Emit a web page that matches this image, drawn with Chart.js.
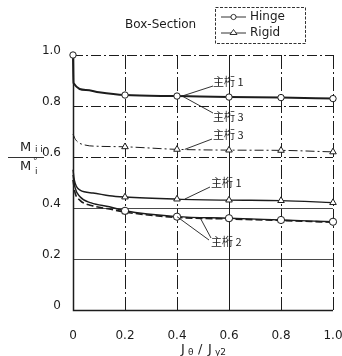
<!DOCTYPE html>
<html>
<head>
<meta charset="utf-8">
<script src="https://cdn.jsdelivr.net/npm/chart.js@4/dist/chart.umd.min.js"></script>
<style>
  html, body { margin: 0; padding: 0; background: #fff; }
  #wrap { width: 342px; height: 356px; position: relative; }
</style>
</head>
<body>
<div id="wrap"><canvas id="chart"></canvas></div>
<script>
// Jθ/Jy2 values and M_ii/M°_i
var hinge1X = [0, 0.002, 0.05, 0.1, 0.2, 0.4, 0.6, 0.8, 1.0]
var hinge1Y = [1.0, 0.89, 0.863, 0.854, 0.843, 0.839, 0.835, 0.833, 0.829]

var rigid3X = [0, 0.01, 0.046, 0.1, 0.2, 0.4, 0.6, 0.8, 1.0]
var rigid3Y = [0.69, 0.668, 0.647, 0.642, 0.64, 0.63, 0.627, 0.626, 0.62]

var rigid1X = [0, 0.005, 0.027, 0.077, 0.14, 0.2, 0.4, 0.6, 0.8, 1.0]
var rigid1Y = [0.55, 0.51, 0.47, 0.459, 0.448, 0.443, 0.435, 0.431, 0.429, 0.421]

var hinge2X = [0, 0.008, 0.027, 0.07, 0.14, 0.2, 0.4, 0.6, 0.8, 1.0]
var hinge2Y = [0.53, 0.48, 0.444, 0.42, 0.405, 0.389, 0.366, 0.36, 0.353, 0.346]

var rigid2X = [0, 0.008, 0.027, 0.07, 0.14, 0.2, 0.4, 0.6, 0.8, 1.0]
var rigid2Y = [0.51, 0.46, 0.43, 0.41, 0.396, 0.384, 0.363, 0.357, 0.351, 0.344]

var markX = [0.2, 0.4, 0.6, 0.8, 1.0]
var xTicks = [0, 0.2, 0.4, 0.6, 0.8, 1.0]
var yTickLabels = {"1": "1.0", "0.8": "0.8", "0.6": "0.6", "0.4": "0.4", "0.2": "0.2", "0": "0"}

var INK = '#1c1c1c'
var FONT = '"DejaVu Sans", sans-serif'
var JFONT = '"Noto Sans CJK JP", sans-serif'

function toPoints(xs, ys){
    var pts = []
    for (var i = 0; i < xs.length; i++){
        pts.push({x: xs[i], y: ys[i]})
    }
    return pts
}

function markerRadius(xs, r, first){
    return xs.map(function(x, i){
        if (first && i == 0) return r
        return markX.indexOf(x) >= 0 ? r : 0
    })
}

function series(xs, ys, opts){
    return Object.assign({
        data: toPoints(xs, ys),
        borderColor: INK,
        borderWidth: 1,
        pointBackgroundColor: '#fff',
        pointBorderColor: INK,
        pointBorderWidth: 1,
        pointHoverRadius: 0,
        cubicInterpolationMode: 'monotone',
        clip: false,
        fill: false
    }, opts)
}

var datasets = [
    series(hinge1X, hinge1Y, {label: 'Hinge 1', borderWidth: 2, pointStyle: 'circle', pointRadius: markerRadius(hinge1X, 3.2, true)}),
    series(rigid3X, rigid3Y, {label: 'Rigid 3', borderDash: [9, 3, 2, 3], pointStyle: 'triangle', pointRadius: markerRadius(rigid3X, 3.8)}),
    series(rigid1X, rigid1Y, {label: 'Rigid 1', borderWidth: 1.4, pointStyle: 'triangle', pointRadius: markerRadius(rigid1X, 3.8)}),
    series(hinge2X, hinge2Y, {label: 'Hinge 2', borderWidth: 1.4, pointStyle: 'circle', pointRadius: markerRadius(hinge2X, 3.6)}),
    series(rigid2X, rigid2Y, {label: 'Rigid 2', borderWidth: 1.6, borderDash: [7, 3], pointStyle: 'triangle', pointRadius: markerRadius(rigid2X, 3.4)})
]

// grid, frame, titles, legend and the girder labels
var decorations = {
    id: 'decorations',
    beforeDatasetsDraw: function(chart){
        var ctx = chart.ctx
        var a = chart.chartArea
        var xs = chart.scales.x
        var ys = chart.scales.y
        ctx.save()
        ctx.strokeStyle = INK
        ctx.lineWidth = 1
        // horizontal grid
        ;[0.2, 0.4, 0.6, 0.8, 1.0].forEach(function(v){
            var y = Math.round(ys.getPixelForValue(v)) + 0.5
            ctx.setLineDash(v >= 0.6 ? [10, 3, 2, 3] : [])
            ctx.lineWidth = v >= 0.6 ? 1 : 0.8
            ctx.beginPath(); ctx.moveTo(a.left, y); ctx.lineTo(a.right, y); ctx.stroke()
        })
        // vertical grid
        ;[0.2, 0.4, 0.6, 0.8, 1.0].forEach(function(v){
            var x = Math.round(xs.getPixelForValue(v)) + 0.5
            ctx.setLineDash(v == 0.6 ? [] : [14, 3, 2, 3])
            ctx.lineWidth = 1
            ctx.beginPath(); ctx.moveTo(x, a.top); ctx.lineTo(x, a.bottom); ctx.stroke()
        })
        // left and bottom frame
        ctx.setLineDash([])
        ctx.lineWidth = 1.5
        ctx.beginPath()
        ctx.moveTo(a.left + 0.5, a.top)
        ctx.lineTo(a.left + 0.5, a.bottom + 0.5)
        ctx.lineTo(a.right, a.bottom + 0.5)
        ctx.stroke()
        ctx.restore()
    },
    afterDatasetsDraw: function(chart){
        var ctx = chart.ctx
        var xs = chart.scales.x
        var ys = chart.scales.y
        function px(v){ return xs.getPixelForValue(v) }
        function py(v){ return ys.getPixelForValue(v) }
        ctx.save()
        ctx.fillStyle = INK
        ctx.strokeStyle = INK
        ctx.lineWidth = 0.9

        // title
        ctx.font = '12px ' + FONT
        ctx.textBaseline = 'middle'
        ctx.textAlign = 'left'
        ctx.fillText('Box-Section', 125, 25)

        // legend box
        ctx.setLineDash([3, 1.5])
        ctx.strokeRect(215.5, 7.5, 90, 36)
        ctx.setLineDash([])
        ctx.beginPath(); ctx.moveTo(221, 17); ctx.lineTo(246, 17); ctx.stroke()
        ctx.beginPath(); ctx.moveTo(221, 33); ctx.lineTo(246, 33); ctx.stroke()
        ctx.fillStyle = '#fff'
        ctx.beginPath(); ctx.arc(233.5, 17, 2.6, 0, Math.PI * 2); ctx.fill(); ctx.stroke()
        ctx.beginPath(); ctx.moveTo(233.5, 29.5); ctx.lineTo(237, 34.5); ctx.lineTo(230, 34.5); ctx.closePath(); ctx.fill(); ctx.stroke()
        ctx.fillStyle = INK
        ctx.fillText('Hinge', 250, 17)
        ctx.fillText('Rigid', 250, 33)

        // y-axis title as a fraction
        ctx.font = '13px ' + FONT
        ctx.textAlign = 'left'
        ctx.fillText('M', 20, 148)
        ctx.font = '9px ' + FONT
        ctx.fillText('i i', 35, 150)
        ctx.beginPath(); ctx.moveTo(8, 157.5); ctx.lineTo(44, 157.5); ctx.stroke()
        ctx.font = '13px ' + FONT
        ctx.fillText('M', 20, 167)
        ctx.font = '9px ' + FONT
        ctx.fillText('°', 33, 162)
        ctx.fillText('i', 35, 172)

        // x-axis title
        ctx.font = '13px ' + FONT
        ctx.fillText('J', 181, 350)
        ctx.font = '9px ' + FONT
        ctx.fillText('θ', 188, 353)
        ctx.font = '13px ' + FONT
        ctx.fillText('/', 198, 350)
        ctx.fillText('J', 208, 350)
        ctx.font = '9px ' + FONT
        ctx.fillText('y2', 215, 353)

        // girder labels with leader lines
        ctx.font = '11px ' + JFONT
        var labels = [
            {text: '主桁 1', tx: 213, ty: 82, ax: 0.42, ay: 0.839, ex: 213, ey: 86},
            {text: '主桁 3', tx: 213, ty: 117, ax: 0.42, ay: 0.839, ex: 213, ey: 113},
            {text: '主桁 3', tx: 213, ty: 135, ax: 0.43, ay: 0.63, ex: 212, ey: 139},
            {text: '主桁 1', tx: 211, ty: 183, ax: 0.43, ay: 0.435, ex: 210, ey: 187},
            {text: '主桁 2', tx: 211, ty: 242, ax: 0.4, ay: 0.366, ex: 209, ey: 240}
        ]
        labels.forEach(function(l){
            ctx.beginPath(); ctx.moveTo(px(l.ax), py(l.ay)); ctx.lineTo(l.ex, l.ey); ctx.stroke()
            ctx.fillText(l.text, l.tx, l.ty)
        })
        // second leader of 主桁 2
        ctx.beginPath(); ctx.moveTo(px(0.49), py(0.36)); ctx.lineTo(211, 238); ctx.stroke()
        ctx.restore()
    }
}

var ctx = document.getElementById('chart')

var chart = new Chart(ctx, {
    type: 'line',
    data: { datasets: datasets },
    options: {
        responsive: true,
        maintainAspectRatio: false,
        animation: false,
        events: [],
        layout: { padding: { top: 55, right: 9, left: 0, bottom: 0 } },
        plugins: {
            legend: { display: false },
            tooltip: { enabled: false },
            title: { display: false }
        },
        scales: {
            x: {
                type: 'linear',
                min: 0,
                max: 1,
                afterFit: function(scale){
                    scale.height = 46
                    scale.paddingLeft = 0
                    scale.paddingRight = 0
                },
                afterBuildTicks: function(scale){
                    scale.ticks = xTicks.map(function(v){ return {value: v} })
                },
                grid: { display: false },
                border: { display: false },
                ticks: {
                    color: INK,
                    font: { family: FONT, size: 12 },
                    padding: 11,
                    maxRotation: 0,
                    callback: function(v){ return v == 0 ? '0' : v.toFixed(1) }
                }
            },
            y: {
                min: 0,
                max: 1,
                afterFit: function(scale){
                    scale.width = 73
                    scale.paddingTop = 0
                    scale.paddingBottom = 0
                },
                grid: { display: false },
                border: { display: false },
                ticks: {
                    stepSize: 0.2,
                    color: INK,
                    font: { family: FONT, size: 12 },
                    padding: 4,
                    labelOffset: -4,
                    callback: function(v){ return yTickLabels[String(Math.round(v * 10) / 10)] }
                }
            }
        }
    },
    plugins: [decorations]
})
</script>
</body>
</html>
